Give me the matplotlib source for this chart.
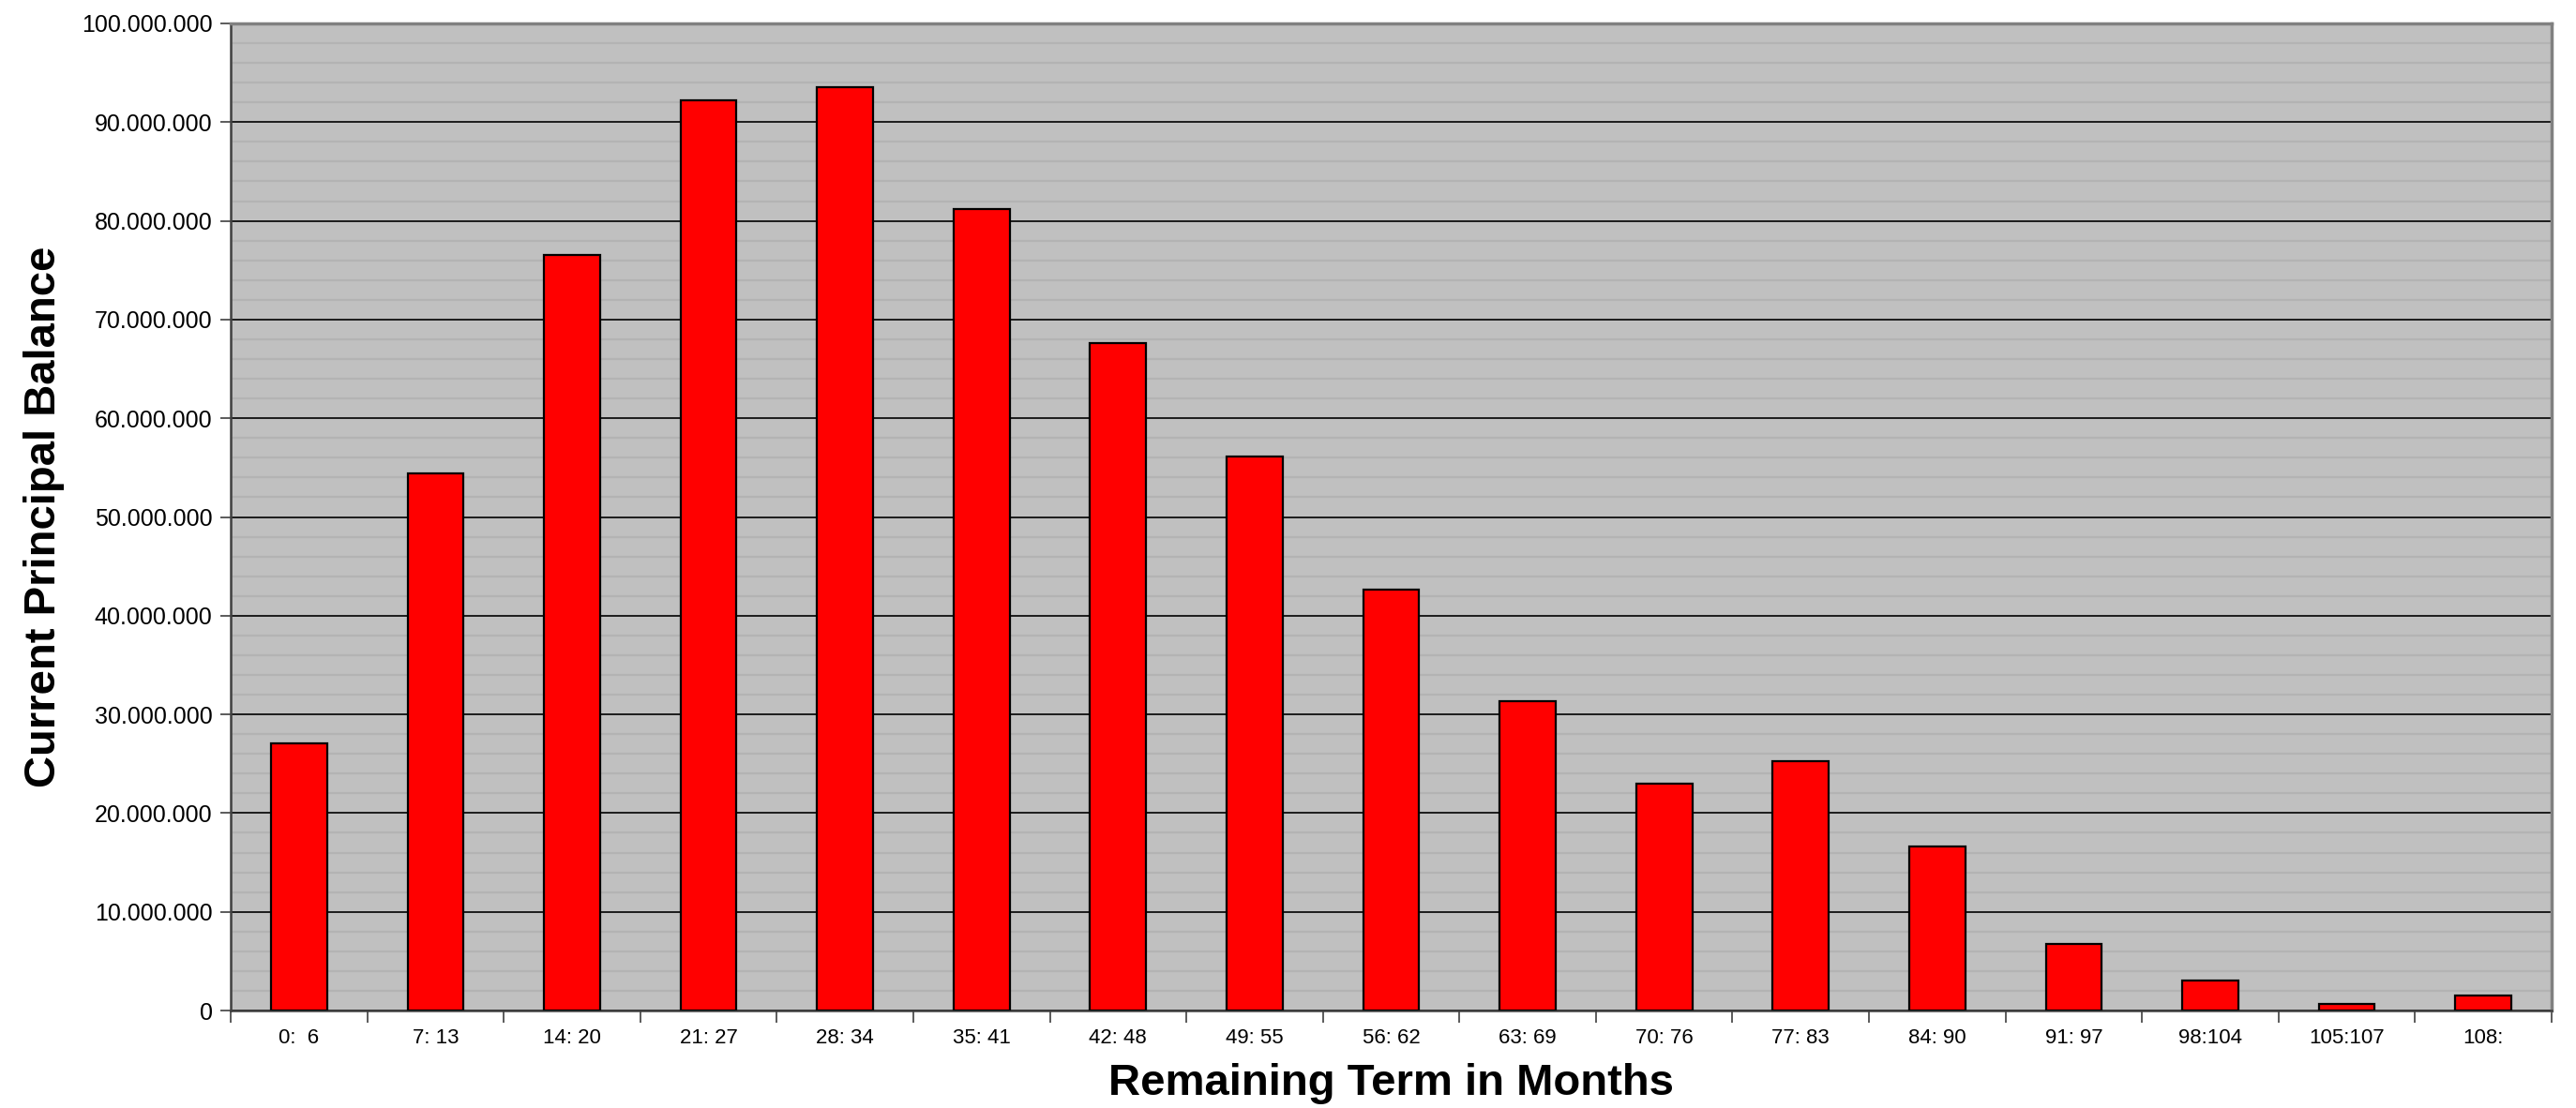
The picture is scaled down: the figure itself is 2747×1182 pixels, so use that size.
import numpy as np
import matplotlib
matplotlib.use("Agg")
import matplotlib.pyplot as plt
from matplotlib.ticker import FuncFormatter, MultipleLocator, FixedLocator

# remaining term buckets (months)
term_start = [0, 7, 14, 21, 28, 35, 42, 49, 56, 63, 70, 77, 84, 91, 98, 105, 108]
term_end = [6, 13, 20, 27, 34, 41, 48, 55, 62, 69, 76, 83, 90, 97, 104, 107, None]
balance_m = [27.1, 54.4, 76.5, 92.2, 93.5, 81.2, 67.6, 56.1, 42.6, 31.3,
             23.0, 25.3, 16.6, 6.7, 3.0, 0.7, 1.5]

labels = []
for s, e in zip(term_start, term_end):
    if e is None:
        labels.append("%d:" % s)
    else:
        labels.append("%d:%3d" % (s, e))
balance = np.array(balance_m) * 1e6

plt.rcParams['font.family'] = ['Liberation Sans', 'DejaVu Sans']

fig = plt.figure(figsize=(27.47, 11.82), dpi=100)
ax = fig.add_axes([246 / 2747, 1 - 1078 / 1182, (2721 - 246) / 2747, (1078 - 25) / 1182])
ax.set_facecolor("#C0C0C0")

x = np.arange(len(labels))
ax.bar(x, balance, width=0.41, color="#FF0000", edgecolor="black", linewidth=1.6, zorder=3)

ax.set_xlim(-0.5, len(labels) - 0.5)
ax.set_ylim(0, 100e6)

ax.yaxis.set_major_locator(MultipleLocator(10e6))
ax.yaxis.set_minor_locator(MultipleLocator(2e6))
ax.yaxis.set_major_formatter(FuncFormatter(lambda v, p: f"{int(round(v)):,}".replace(",", ".")))
ax.grid(which="minor", axis="y", color="#B3B3B3", linewidth=1.6, zorder=1)
ax.grid(which="major", axis="y", color="black", linewidth=1.2, zorder=2)
ax.tick_params(axis="y", which="major", labelsize=18, length=8, width=1.2, color="#404040", pad=6)
ax.tick_params(axis="y", which="minor", length=0)

ax.set_xticks(x)
ax.set_xticklabels(labels)
ax.xaxis.set_minor_locator(FixedLocator(np.arange(-0.5, len(labels), 1.0)))
ax.tick_params(axis="x", which="major", length=0, labelsize=16, pad=14)
ax.tick_params(axis="x", which="minor", length=9, width=1.2, color="#404040")

for side in ["left", "bottom"]:
    ax.spines[side].set_color("#404040")
    ax.spines[side].set_linewidth(1.8)
for side in ["top", "right"]:
    ax.spines[side].set_color("#808080")
    ax.spines[side].set_linewidth(2.5)

fig.text(1 - 1 + 47 / 2747, (ax.get_position().y0 + ax.get_position().y1) / 2,
         "Current Principal Balance", rotation=90, ha="center", va="center",
         fontsize=34, fontweight="bold")
fig.text((ax.get_position().x0 + ax.get_position().x1) / 2, 1 - 1156 / 1182,
         "Remaining Term in Months", ha="center", va="center",
         fontsize=34, fontweight="bold")

fig.savefig("out.png", dpi=100)
